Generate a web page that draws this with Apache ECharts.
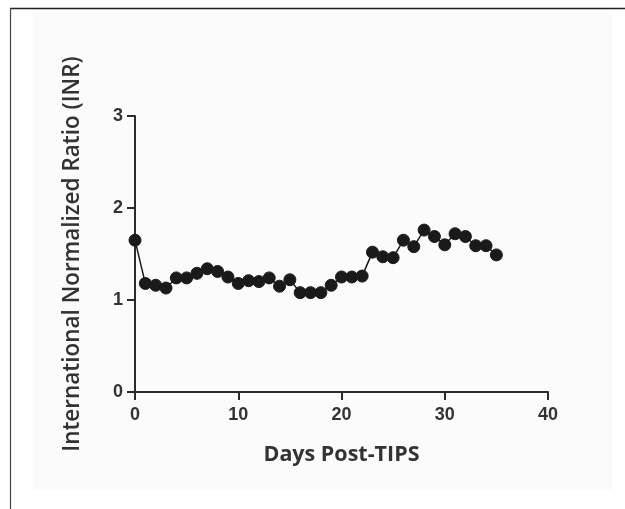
<!DOCTYPE html>
<html>
<head>
<meta charset="utf-8">
<script src="https://cdn.jsdelivr.net/npm/echarts@6/dist/echarts.min.js"></script>
<style>
  html, body { margin: 0; padding: 0; background: #fff; }
  #chart { width: 625px; height: 509px; }
</style>
</head>
<body>
<div id="chart"></div>
<script>
// days after TIPS procedure and INR readings
var days = [0, 1, 2, 3, 4, 5, 6, 7, 8, 9, 10, 11, 12, 13, 14, 15, 16, 17,
            18, 19, 20, 21, 22, 23, 24, 25, 26, 27, 28, 29, 30, 31, 32, 33, 34, 35];
var inr = [1.65, 1.18, 1.16, 1.13, 1.24, 1.24, 1.29, 1.34, 1.31, 1.25, 1.18, 1.21,
           1.20, 1.24, 1.15, 1.22, 1.08, 1.08, 1.08, 1.16, 1.25, 1.25, 1.26, 1.52,
           1.47, 1.46, 1.65, 1.58, 1.76, 1.69, 1.60, 1.72, 1.69, 1.59, 1.59, 1.49];
var xTicks = [0, 10, 20, 30, 40];
var yTicks = [0, 1, 2, 3];

var points = days.map(function (d, i) { return [d, inr[i]]; });

var chart = echarts.init(document.getElementById('chart'), null, {renderer: 'canvas'});

var axisColor = '#2b2b2b';
var labelFont = {
    color: '#333',
    fontFamily: 'Liberation Sans',
    fontWeight: 'bold',
    fontSize: 18
};

chart.setOption({
    backgroundColor: '#fff',
    animation: false,
    graphic: [
        // light panel behind the plot
        {type: 'rect', z: -10, shape: {x: 33, y: 12, width: 579, height: 478},
         style: {fill: '#fbfbfb'}},
        // figure frame (top + left edges only)
        {type: 'line', shape: {x1: 10, y1: 8.5, x2: 625, y2: 8.5},
         style: {stroke: '#222', lineWidth: 1.5}},
        {type: 'line', shape: {x1: 10.5, y1: 8, x2: 10.5, y2: 509},
         style: {stroke: '#444', lineWidth: 1.2}}
    ],
    grid: {left: 135, right: 77, top: 116, bottom: 117},
    xAxis: {
        type: 'value',
        min: 0, max: 40, interval: 10,
        name: 'Days Post-TIPS',
        nameLocation: 'middle',
        nameGap: 52,
        nameTextStyle: {
            color: '#333', fontFamily: 'Open Sans', fontWeight: 'bold', fontSize: 21.5
        },
        axisLine: {onZero: false, lineStyle: {color: axisColor, width: 2}},
        axisTick: {show: true, length: 8, lineStyle: {color: axisColor, width: 2}},
        axisLabel: Object.assign({margin: 14, formatter: function (v) {
            return xTicks.indexOf(v) >= 0 ? v : '';
        }}, labelFont),
        splitLine: {show: false}
    },
    yAxis: {
        type: 'value',
        min: 0, max: 3, interval: 1,
        name: 'International Normalized Ratio (INR)',
        nameLocation: 'middle',
        nameGap: 51,
        nameTextStyle: {
            color: '#333', fontFamily: 'Open Sans', fontWeight: 600, fontSize: 22.5
        },
        axisLine: {show: true, onZero: false, lineStyle: {color: axisColor, width: 2}},
        axisTick: {show: true, length: 8, lineStyle: {color: axisColor, width: 2}},
        axisLabel: Object.assign({margin: 12, formatter: function (v) {
            return yTicks.indexOf(v) >= 0 ? v : '';
        }}, labelFont),
        splitLine: {show: false}
    },
    series: [{
        type: 'line',
        data: points,
        symbol: 'circle',
        symbolSize: 12,
        lineStyle: {color: '#1a1a1a', width: 1.5},
        itemStyle: {color: '#1a1a1a', borderColor: '#1a1a1a'},
        clip: false
    }]
});
</script>
</body>
</html>
